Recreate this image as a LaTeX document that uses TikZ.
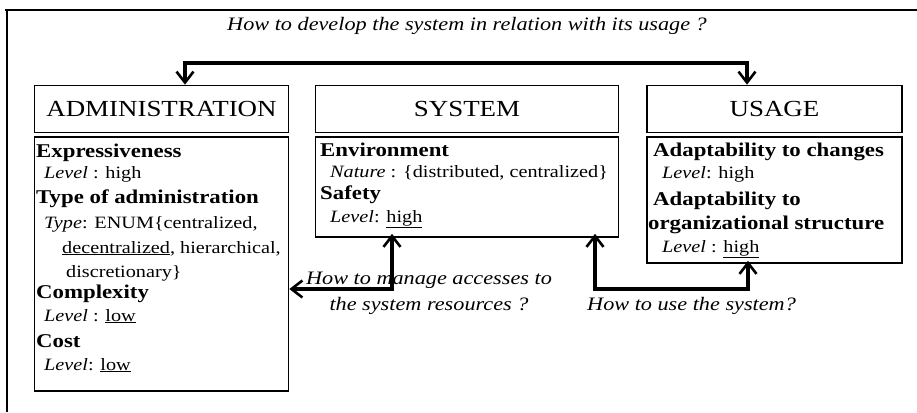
\documentclass[tikz,border=0pt]{standalone}
\usepackage{fontspec}
\setmainfont{Liberation Serif}[FakeStretch=1.17]
\usetikzlibrary{arrows.meta}
\begin{document}
\begin{tikzpicture}[x=1pt,y=-1pt,
  box/.style={draw, line width=1.6pt, inner sep=0pt},
  head/.style={box, minimum height=47pt, font=\fontsize{23}{23}\selectfont},
  hd/.style={anchor=base west, inner sep=0pt, font=\fontsize{19.5}{19.5}\selectfont\bfseries},
  tx/.style={anchor=base west, inner sep=0pt, font=\fontsize{17.3}{17.3}\selectfont},
  q/.style={inner sep=0pt, font=\fontsize{19}{19}\selectfont\itshape},
  conn/.style={line width=3.6pt, {Straight Barb[length=11pt,width=17pt,line width=2.6pt]}-{Straight Barb[length=11pt,width=17pt,line width=2.6pt]}}
]
\useasboundingbox (0,0) rectangle (917,412);
% outer frame (top and left only visible)
\draw[line width=1.2pt] (5,10) -- (917,10);
\draw[line width=1.2pt] (7,10) -- (7,412);

% header boxes
\node[head, minimum width=254pt] (adminH) at (161.5,109) {ADMINISTRATION};
\node[head, minimum width=303pt] (systemH) at (467,109) {SYSTEM};
\node[head, minimum width=255pt] (usageH) at (774.5,109) {USAGE};

% body boxes
\node[box, minimum width=254pt, minimum height=254pt] (adminB) at (161.5,264) {};
\node[box, minimum width=303pt, minimum height=100pt] (systemB) at (467,187) {};
\node[box, minimum width=255pt, minimum height=126pt] (usageB) at (774.5,200) {};

% administration contents
\node[hd] (a1) at (36,157) {Expressiveness};
\node[tx] (a2) at (44,178) {\textit{Level} : high};
\node[hd] (a3) at (36,203) {Type of administration};
\node[tx] (a4) at (44,228) {\textit{Type}: ENUM\{centralized,};
\node[tx] (a5) at (62,253) {\underline{decentralized}, hierarchical,};
\node[tx] (a6) at (66,277) {discretionary\}};
\node[hd] (a7) at (36,298) {Complexity};
\node[tx] (a8) at (44,321) {\textit{Level} : \underline{low}};
\node[hd] (a9) at (36,347) {Cost};
\node[tx] (a10) at (44,370) {\textit{Level}: \underline{low}};

% system contents
\node[hd] (s1) at (320,156) {Environment};
\node[tx] (s2) at (330,177) {\textit{Nature} : \{distributed, centralized\}};
\node[hd] (s3) at (320,199) {Safety};
\node[tx] (s4) at (330,222) {\textit{Level}: \underline{high}};

% usage contents
\node[hd] (u1) at (653,156) {Adaptability to changes};
\node[tx] (u2) at (662,178) {\textit{Level}: high};
\node[hd] (u3) at (653,205) {Adaptability to};
\node[hd] (u4) at (648,229) {organizational structure};
\node[tx] (u5) at (662,252) {\textit{Level} : \underline{high}};

% questions
\node[q, anchor=base] (qtop) at (467,31) {How to develop the system in relation with its usage ?};
\node[q, anchor=base, align=center] (qman) at (429,310) {How to manage accesses to\\[7pt]the system resources ?};
\node[q, anchor=base west] (quse) at (587,310) {How to use the system?};

% connectors
\coordinate (tl) at (185,63);
\coordinate (tr) at (747,63);
\draw[conn] (adminH.north -| tl) -- (tl) -- (tr) -- (usageH.north -| tr);
\coordinate (m) at (392,289);
\draw[conn] (adminB.east |- m) -- (m) -- ([yshift=4pt]systemB.south -| m);
\coordinate (ua) at (595,289);
\coordinate (ub) at (748,289);
\draw[conn] ([yshift=4pt]systemB.south -| ua) -- (ua) -- (ub) -- ([yshift=3pt]usageB.south -| ub);
\end{tikzpicture}
\end{document}
